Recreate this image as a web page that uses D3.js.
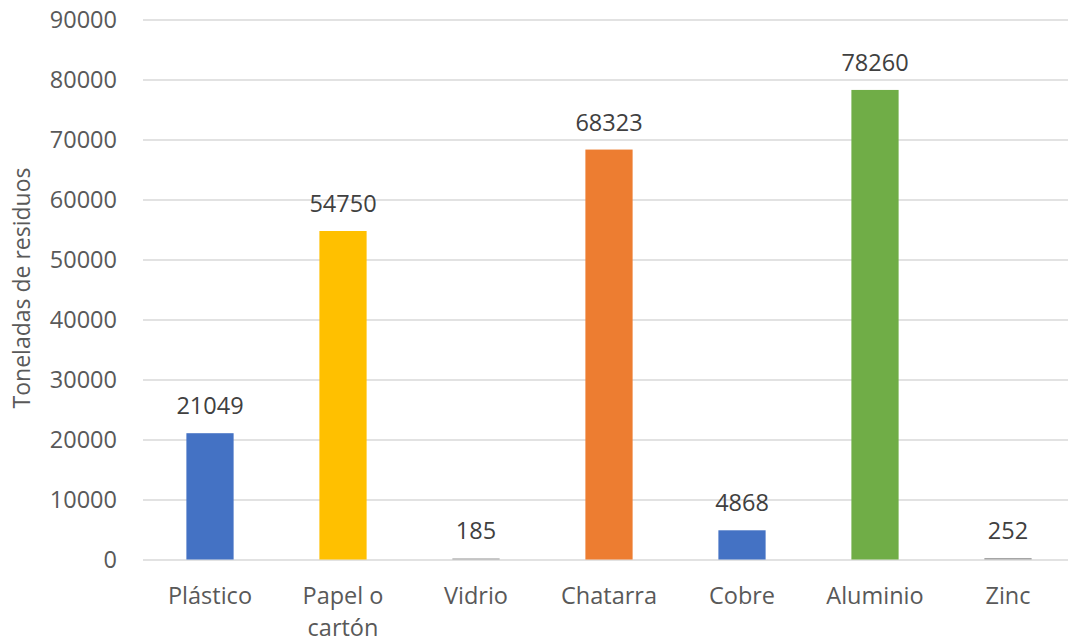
<!DOCTYPE html>
<html>
<head>
<meta charset="utf-8">
<script src="https://cdn.jsdelivr.net/npm/d3@7"></script>
<style>
  html, body { margin: 0; padding: 0; background: #ffffff; }
  svg { display: block; font-family: "Open Sans", "Noto Sans", sans-serif; }
</style>
</head>
<body>
<svg id="chart" width="1068" height="642"></svg>
<script>
// Waste tonnage by material
const categories = ["Plástico", "Papel o cartón", "Vidrio", "Chatarra", "Cobre", "Aluminio", "Zinc"];
const values = [21049, 54750, 185, 68323, 4868, 78260, 252];
const barColors = ["#4472C4", "#FFC000", "#A5A5A5", "#ED7D31", "#4472C4", "#70AD47", "#A5A5A5"];
const yTicks = [0, 10000, 20000, 30000, 40000, 50000, 60000, 70000, 80000, 90000];
const yTitle = "Toneladas de residuos";

const svg = d3.select("#chart");
const W = 1068, H = 642;
const plot = { left: 143.5, right: 1074.5, top: 19.5, bottom: 559.5, gridEnd: 1068 };

const x = d3.scaleBand()
  .domain(categories)
  .range([plot.left, plot.right])
  .paddingInner(0.645)
  .paddingOuter(0.3225);

const y = d3.scaleLinear()
  .domain([0, 90000])
  .range([plot.bottom, plot.top]);

const cx = d => x(d) + x.bandwidth() / 2;

// Horizontal gridlines
svg.append("g")
  .selectAll("line")
  .data(yTicks)
  .join("line")
  .attr("x1", 143)
  .attr("x2", plot.gridEnd)
  .attr("y1", d => Math.round(y(d)))
  .attr("y2", d => Math.round(y(d)))
  .attr("stroke", "#D9D9D9")
  .attr("stroke-width", 1.5);

// Y axis tick labels
const yAxis = d3.axisLeft(y).tickValues(yTicks).tickSize(0).tickPadding(0).tickFormat(d3.format("d"));
const gy = svg.append("g")
  .attr("transform", "translate(117,0)")
  .call(yAxis);
gy.select(".domain").remove();
gy.selectAll("text")
  .attr("fill", "#595959")
  .style("font-size", "23.5px")
  .style("font-family", "'Open Sans', sans-serif");

// Bars
svg.append("g")
  .selectAll("rect")
  .data(categories)
  .join("rect")
  .attr("x", d => x(d))
  .attr("width", x.bandwidth())
  .attr("y", (d, i) => y(values[i]))
  .attr("height", (d, i) => y(0) - y(values[i]))
  .attr("fill", (d, i) => barColors[i]);

// Value labels
svg.append("g")
  .selectAll("text")
  .data(categories)
  .join("text")
  .attr("x", cx)
  .attr("y", (d, i) => y(values[i]) - 19)
  .attr("text-anchor", "middle")
  .attr("fill", "#404040")
  .style("font-size", "23.5px")
  .text((d, i) => values[i]);

// Category labels ("Papel o cartón" wraps onto two lines)
const xl = svg.append("g")
  .selectAll("text")
  .data(categories)
  .join("text")
  .attr("x", cx)
  .attr("y", 604)
  .attr("text-anchor", "middle")
  .attr("fill", "#595959")
  .style("font-size", "23.5px");
xl.each(function(d) {
  const t = d3.select(this);
  const lines = d === "Papel o cartón" ? ["Papel o", "cartón"] : [d];
  lines.forEach((ln, k) => {
    t.append("tspan")
      .attr("x", cx(d))
      .attr("dy", k === 0 ? 0 : 32)
      .text(ln);
  });
});

// Y axis title
svg.append("text")
  .attr("transform", "translate(30,288) rotate(-90)")
  .attr("text-anchor", "middle")
  .attr("fill", "#595959")
  .style("font-size", "23px")
  .text(yTitle);
</script>
</body>
</html>
